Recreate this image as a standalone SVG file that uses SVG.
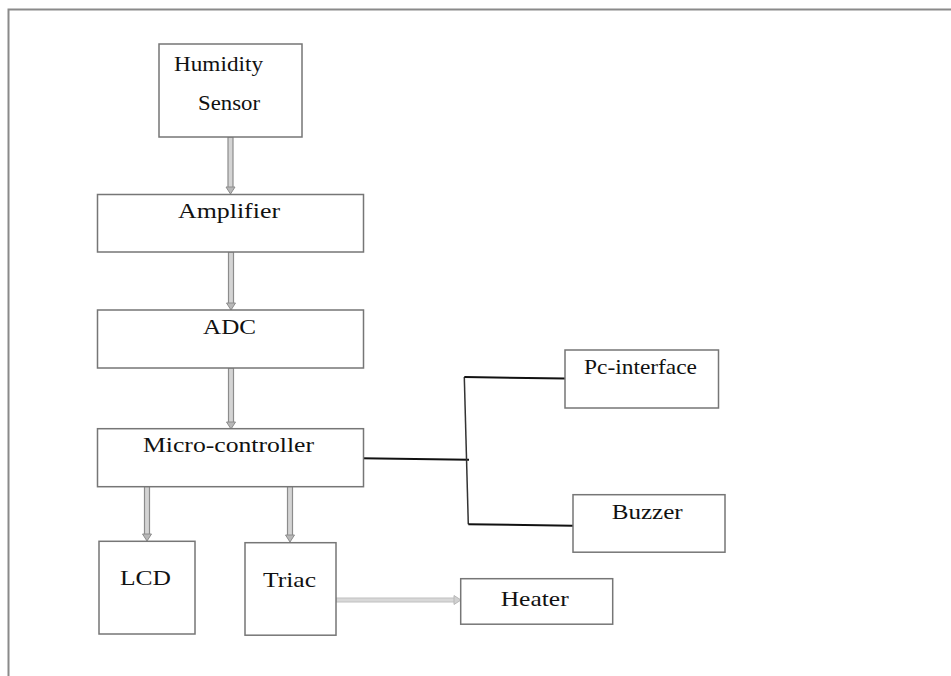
<svg xmlns="http://www.w3.org/2000/svg" width="951" height="676" viewBox="0 0 951 676">
<style>
.box{fill:#fff;stroke:#767676;stroke-width:1.5}
.lbl{font-family:"Liberation Serif","Times New Roman",serif;font-size:21px;fill:#111}
.frame{fill:none;stroke:#8a8a8a;stroke-width:2}
.shaft{fill:#d4d4d4;stroke:#8c8c8c;stroke-width:1.2}
.head{fill:#b8b8b8;stroke:#8c8c8c;stroke-width:1}
.hshaft{fill:#d8d8d8;stroke:#c0c0c0;stroke-width:1}
.hhead{fill:#d0d0d0;stroke:#b8b8b8;stroke-width:1}
.wire{fill:none;stroke:#111;stroke-width:2}
.wirev{fill:none;stroke:#333;stroke-width:1.5}
</style>
<rect x="0" y="0" width="951" height="676" fill="#fff"/>
<path class="frame" d="M8.5,676 V9.5 H951"/>
<g id="connectors">
  <rect class="shaft" x="228" y="137" width="5" height="51"/>
  <path class="head" d="M226,187 L235,187 L230.5,194 Z"/>
  <rect class="shaft" x="228.5" y="252" width="5" height="52"/>
  <path class="head" d="M226.5,303 L235.5,303 L231,310 Z"/>
  <rect class="shaft" x="228.5" y="368" width="5" height="55"/>
  <path class="head" d="M226.5,422 L235.5,422 L231,429 Z"/>
  <rect class="shaft" x="144.5" y="486" width="5" height="49"/>
  <path class="head" d="M142.5,534 L151.5,534 L147,541 Z"/>
  <rect class="shaft" x="287.5" y="486" width="5" height="50"/>
  <path class="head" d="M285.5,535 L294.5,535 L290,542 Z"/>
  <rect class="hshaft" x="336" y="598" width="119" height="4"/>
  <path class="hhead" d="M454,595.5 L461,600 L454,604.5 Z"/>
  <path class="wire" d="M361,458.3 L469,459.7"/>
  <path class="wirev" d="M464.3,377 L468.3,524.3"/>
  <path class="wire" d="M464.3,377 L565,378.5"/>
  <path class="wire" d="M468.3,524.3 L573,525.7"/>
</g>
<g id="humidity-sensor">
  <rect class="box" x="159" y="44" width="143" height="93"/>
  <text class="lbl" x="174" y="71" textLength="89" lengthAdjust="spacingAndGlyphs">Humidity</text>
  <text class="lbl" x="198" y="110" textLength="62" lengthAdjust="spacingAndGlyphs">Sensor</text>
</g>
<g id="amplifier">
  <rect class="box" x="97.5" y="194.5" width="266" height="57.5"/>
  <text class="lbl" x="178" y="218" textLength="102" lengthAdjust="spacingAndGlyphs">Amplifier</text>
</g>
<g id="adc">
  <rect class="box" x="97.5" y="310" width="266" height="58"/>
  <text class="lbl" x="203" y="334" textLength="53" lengthAdjust="spacingAndGlyphs">ADC</text>
</g>
<g id="micro-controller">
  <rect class="box" x="97.5" y="428.7" width="266" height="58"/>
  <text class="lbl" x="143" y="452" textLength="171" lengthAdjust="spacingAndGlyphs">Micro-controller</text>
</g>
<g id="pc-interface">
  <rect class="box" x="565" y="350" width="153.5" height="58"/>
  <text class="lbl" x="584" y="374" textLength="113" lengthAdjust="spacingAndGlyphs">Pc-interface</text>
</g>
<g id="buzzer">
  <rect class="box" x="573" y="494.7" width="152" height="57.5"/>
  <text class="lbl" x="611.7" y="519" textLength="71" lengthAdjust="spacingAndGlyphs">Buzzer</text>
</g>
<g id="lcd">
  <rect class="box" x="99" y="541.3" width="96" height="92.7"/>
  <text class="lbl" x="120" y="585" textLength="51" lengthAdjust="spacingAndGlyphs">LCD</text>
</g>
<g id="triac">
  <rect class="box" x="245" y="542.7" width="91" height="92.5"/>
  <text class="lbl" x="263" y="586.7" textLength="53" lengthAdjust="spacingAndGlyphs">Triac</text>
</g>
<g id="heater">
  <rect class="box" x="460.7" y="578.7" width="152" height="45.5"/>
  <text class="lbl" x="500.7" y="605.7" textLength="68" lengthAdjust="spacingAndGlyphs">Heater</text>
</g>
</svg>
